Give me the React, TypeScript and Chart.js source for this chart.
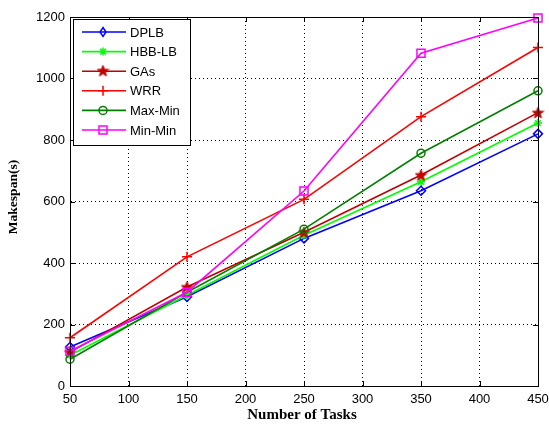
import React, { useEffect, useRef } from "react";
import { Chart, registerables } from "chart.js";

Chart.register(...registerables);

const tasks = [50, 150, 250, 350, 450];
const dplb = [127, 290, 480, 635, 820];
const hbbLb = [100, 295, 490, 664, 855];
const gas = [110, 322, 500, 686, 889];
const wrr = [157, 420, 607, 876, 1101];
const maxMin = [87, 305, 510, 757, 960];
const minMin = [113, 305, 634, 1082, 1197];

const seriesNames = ["DPLB", "HBB-LB", "GAs", "WRR", "Max-Min", "Min-Min"];
const seriesColors = ["#0000FF", "#00FF00", "#C00000", "#FF0000", "#008000", "#FF00FF"];
const xTicks = [50, 100, 150, 200, 250, 300, 350, 400, 450];
const yTicks = [0, 200, 400, 600, 800, 1000, 1200];

const xTitle = "Number of Tasks";
const yTitle = "Makespan(s)";

function pentagramPath(ctx: CanvasRenderingContext2D, cx: number, cy: number, R: number) {
  const r = R * 0.4;
  ctx.beginPath();
  for (let i = 0; i < 10; i++) {
    const rad = -Math.PI / 2 + (i * Math.PI) / 5;
    const rr = i % 2 === 0 ? R : r;
    const px = cx + Math.cos(rad) * rr;
    const py = cy + Math.sin(rad) * rr;
    if (i === 0) ctx.moveTo(px, py);
    else ctx.lineTo(px, py);
  }
  ctx.closePath();
}

function makePentagram(color: string) {
  const c = document.createElement("canvas");
  c.width = 13;
  c.height = 13;
  const g = c.getContext("2d")!;
  pentagramPath(g, 6.5, 7, 6);
  g.fillStyle = color;
  g.fill();
  g.strokeStyle = color;
  g.lineWidth = 1;
  g.stroke();
  return c;
}

function drawMarker(ctx: CanvasRenderingContext2D, kind: string, x: number, y: number, color: string, star?: HTMLCanvasElement) {
  ctx.save();
  ctx.strokeStyle = color;
  ctx.fillStyle = color;
  ctx.lineWidth = 1.5;
  ctx.beginPath();
  if (kind === "diamond") {
    ctx.moveTo(x, y - 4.5);
    ctx.lineTo(x + 3, y);
    ctx.lineTo(x, y + 4.5);
    ctx.lineTo(x - 3, y);
    ctx.closePath();
    ctx.stroke();
  } else if (kind === "asterisk") {
    const r = 4;
    ctx.moveTo(x - r, y); ctx.lineTo(x + r, y);
    ctx.moveTo(x, y - r); ctx.lineTo(x, y + r);
    const d = r * 0.707;
    ctx.moveTo(x - d, y - d); ctx.lineTo(x + d, y + d);
    ctx.moveTo(x - d, y + d); ctx.lineTo(x + d, y - d);
    ctx.stroke();
  } else if (kind === "pentagram" && star) {
    ctx.drawImage(star, x - 6.5, y - 7);
  } else if (kind === "plus") {
    ctx.moveTo(x - 5, y); ctx.lineTo(x + 5, y);
    ctx.moveTo(x, y - 5); ctx.lineTo(x, y + 5);
    ctx.stroke();
  } else if (kind === "circle") {
    ctx.arc(x, y, 4, 0, Math.PI * 2);
    ctx.stroke();
  } else if (kind === "square") {
    ctx.rect(x - 4, y - 4, 8, 8);
    ctx.stroke();
  }
  ctx.restore();
}

export default function App() {
  const ref = useRef<HTMLCanvasElement | null>(null);

  useEffect(() => {
    const canvas = ref.current;
    if (!canvas) return;
    const star = makePentagram(seriesColors[2]);
    const values = [dplb, hbbLb, gas, wrr, maxMin, minMin];
    const markerKinds = ["diamond", "asterisk", "pentagram", "plus", "circle", "square"];
    const styles2: any[] = ["rectRot", "star", star, "cross", "circle", "rect"];
    const radii = [4.5, 4, 6, 5, 4, 5.7];

    const datasets = values.map((v, i) => ({
      label: seriesNames[i],
      data: tasks.map((t, j) => ({ x: t, y: v[j] })),
      borderColor: seriesColors[i],
      backgroundColor: i === 2 ? seriesColors[i] : "rgba(0,0,0,0)",
      pointBackgroundColor: i === 2 ? seriesColors[i] : "rgba(0,0,0,0)",
      pointBorderColor: seriesColors[i],
      pointStyle: styles2[i],
      pointRadius: radii[i],
      pointBorderWidth: 1.5,
      borderWidth: 1.6,
      tension: 0,
      fill: false,
      clip: false as any,
      order: 6 - i,
    }));

    const framePlugin = {
      id: "frame",
      afterDraw(chart: any) {
        const { ctx, chartArea: a, scales } = chart;
        const xs = scales.x;
        const ys = scales.y;
        ctx.save();
        ctx.strokeStyle = "#000";
        ctx.lineWidth = 1;
        ctx.beginPath();
        ctx.rect(Math.round(a.left) + 0.5, Math.round(a.top) + 0.5, Math.round(a.right - a.left), Math.round(a.bottom - a.top));
        ctx.stroke();
        ctx.beginPath();
        const tl = 5;
        xTicks.forEach((t) => {
          const px = Math.round(xs.getPixelForValue(t)) + 0.5;
          ctx.moveTo(px, a.bottom); ctx.lineTo(px, a.bottom - tl);
          ctx.moveTo(px, a.top); ctx.lineTo(px, a.top + tl);
        });
        yTicks.forEach((t) => {
          const py = Math.round(ys.getPixelForValue(t)) + 0.5;
          ctx.moveTo(a.left, py); ctx.lineTo(a.left + tl, py);
          ctx.moveTo(a.right, py); ctx.lineTo(a.right - tl, py);
        });
        ctx.stroke();

        // axis titles
        ctx.fillStyle = "#000";
        ctx.textAlign = "center";
        ctx.textBaseline = "middle";
        ctx.font = "bold 15px 'Liberation Serif', 'Times New Roman', serif";
        ctx.fillText(xTitle, 302, 415);
        ctx.save();
        ctx.font = "bold 13.5px 'Liberation Serif', 'Times New Roman', serif";
        ctx.translate(14, 197);
        ctx.rotate(-Math.PI / 2);
        ctx.fillText(yTitle, 0, 0);
        ctx.restore();

        // legend
        const lx = 73, ly = 19, lw = 117, lh = 126;
        ctx.fillStyle = "#fff";
        ctx.fillRect(lx, ly, lw, lh);
        ctx.strokeStyle = "#000";
        ctx.lineWidth = 1;
        ctx.strokeRect(lx + 0.5, ly + 0.5, lw, lh);
        ctx.font = "13px 'Liberation Sans', Arial, sans-serif";
        ctx.textAlign = "left";
        seriesNames.forEach((name, i) => {
          const y = 32 + i * 19.6;
          ctx.strokeStyle = seriesColors[i];
          ctx.lineWidth = 1.6;
          ctx.beginPath();
          ctx.moveTo(82, y);
          ctx.lineTo(126, y);
          ctx.stroke();
          drawMarker(ctx, markerKinds[i], 103, y, seriesColors[i], star);
          ctx.fillStyle = "#000";
          ctx.fillText(name, 130, y + 1);
        });
        ctx.restore();
      },
    };

    const tickFont = { family: "'Liberation Sans', Arial, sans-serif", size: 13 };

    const chart = new Chart(canvas, {
      type: "line",
      data: { datasets },
      options: {
        animation: false,
        responsive: false,
        maintainAspectRatio: false,
        layout: { padding: { top: 17, right: 11, left: 0, bottom: 0 } },
        plugins: { legend: { display: false }, tooltip: { enabled: false } },
        scales: {
          x: {
            type: "linear",
            min: 50,
            max: 450,
            afterBuildTicks: (s: any) => { s.ticks = xTicks.map((v) => ({ value: v })); },
            afterFit: (s: any) => { s.height = 40; s.paddingLeft = 0; s.paddingRight = 0; },
            ticks: {
              color: "#000",
              font: tickFont,
              padding: 6,
              maxRotation: 0,
              autoSkip: false,
              callback: (v: any) => String(v),
            },
            grid: { color: "#000", lineWidth: 1, drawTicks: false },
            border: { display: true, color: "#000", width: 1, dash: [1, 3] },
          },
          y: {
            type: "linear",
            min: 0,
            max: 1200,
            afterBuildTicks: (s: any) => { s.ticks = yTicks.map((v) => ({ value: v })); },
            afterFit: (s: any) => { s.width = 70; s.paddingTop = 0; s.paddingBottom = 0; },
            ticks: {
              color: "#000",
              font: tickFont,
              padding: 5,
              autoSkip: false,
              callback: (v: any) => String(v),
            },
            grid: { color: "#000", lineWidth: 1, drawTicks: false },
            border: { display: true, color: "#000", width: 1, dash: [1, 3] },
          },
        },
      },
      plugins: [framePlugin],
    });
    return () => chart.destroy();
  }, []);

  return (
    <div style={{ position: "absolute", left: 0, top: 0, width: 549, height: 426, background: "#fff" }}>
      <canvas ref={ref} width={549} height={426} style={{ display: "block", width: 549, height: 426 }} />
    </div>
  );
}
